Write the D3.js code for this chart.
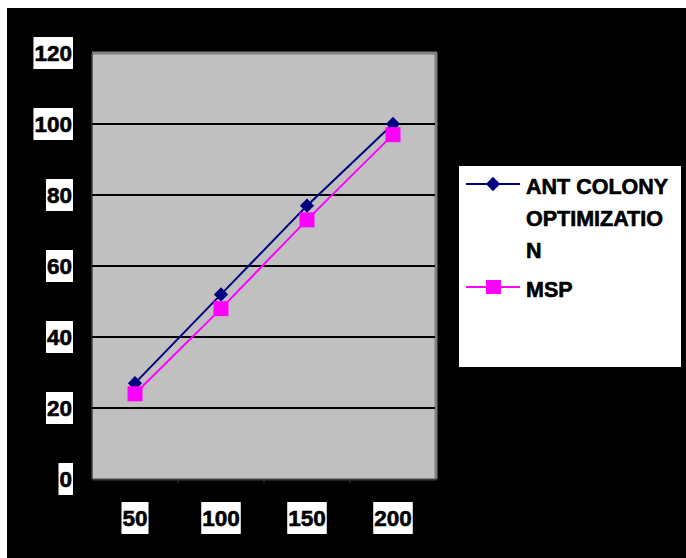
<!DOCTYPE html>
<html><head><meta charset="utf-8">
<script src="https://cdn.jsdelivr.net/npm/d3@7"></script>
<style>html,body{margin:0;padding:0;background:#fff;}svg{display:block;}</style>
</head><body><svg id="c" width="686" height="558"></svg>
<script>
const categories = ["50","100","150","200"];
const acoValues = [27,52,77,100];
const mspValues = [24,48,73,97];
const yTicks = [0,20,40,60,80,100,120];
const legendAco = ["ANT COLONY","OPTIMIZATIO","N"];
const legendMsp = ["MSP"];

const svg = d3.select("#c");
const FONT = "'Liberation Sans', Arial, sans-serif";
svg.append("rect").attr("x",0).attr("y",0).attr("width",686).attr("height",558).attr("fill","#fff");
svg.append("rect").attr("x",7).attr("y",8).attr("width",679).attr("height",550).attr("fill","#000");

const L=92,R=436,T=53,B=479;
const x = d3.scaleBand().domain(categories).range([L,R]);
const y = d3.scaleLinear().domain([0,120]).range([B,T]);

// plot area
svg.append("rect").attr("x",L).attr("y",T).attr("width",R-L).attr("height",B-T).attr("fill","#c0c0c0");
svg.append("line").attr("x1",L).attr("x2",R+1).attr("y1",T).attr("y2",T).attr("stroke","#808080").attr("stroke-width",3);
svg.append("line").attr("x1",R).attr("x2",R).attr("y1",T).attr("y2",B).attr("stroke","#808080").attr("stroke-width",3);
svg.append("line").attr("x1",L).attr("x2",L).attr("y1",T).attr("y2",B).attr("stroke","#404040").attr("stroke-width",1.5);

// gridlines
svg.append("g").selectAll("line").data(yTicks.filter(d=>d>0&&d<120)).join("line")
  .attr("x1",L).attr("x2",R-1).attr("y1",d=>y(d)).attr("y2",d=>y(d))
  .attr("stroke","#000").attr("stroke-width",2);

// bottom axis
const xAxisG = svg.append("g").attr("transform",`translate(0,${B})`)
  .call(d3.axisBottom(x).tickSize(0).tickFormat(""));
xAxisG.select(".domain").attr("stroke","#404040").attr("stroke-width",2);
svg.append("g").selectAll("line").data(categories.slice(1)).join("line")
  .attr("x1",d=>x(d)).attr("x2",d=>x(d)).attr("y1",B).attr("y2",B+4)
  .attr("stroke","#404040").attr("stroke-width",1);

function boxLabel(g, text, px, py, anchor){
  const t = g.append("text").attr("x",px).attr("y",py+8).attr("text-anchor",anchor)
    .attr("font-family",FONT).attr("font-weight","bold")
    .attr("font-size",22.5).attr("fill","#000").attr("stroke","#000").attr("stroke-width",0.6).text(text);
  const bb = t.node().getBBox();
  g.insert("rect","text").attr("x",bb.x-1).attr("y",py-16).attr("width",bb.width+2).attr("height",32).attr("fill","#fff");
}
yTicks.forEach(v=>{ const g=svg.append("g"); boxLabel(g, String(v), 72, y(v), "end"); });
categories.forEach(c=>{ const g=svg.append("g"); boxLabel(g, c, x(c)+x.bandwidth()/2, 518, "middle"); });

const cx = d=>x(d)+x.bandwidth()/2;
const line = d3.line().x((d,i)=>cx(categories[i])).y(d=>y(d));
svg.append("path").datum(mspValues).attr("d",line).attr("fill","none").attr("stroke","#ff00ff").attr("stroke-width",2);
svg.append("path").datum(acoValues).attr("d",line).attr("fill","none").attr("stroke","#000080").attr("stroke-width",2);
const diamond = d3.symbol().type(d3.symbolDiamond2).size(130);
svg.append("g").selectAll("path").data(acoValues).join("path")
  .attr("transform",(d,i)=>`translate(${cx(categories[i])},${y(d)})`).attr("d",diamond).attr("fill","#000080");
svg.append("g").selectAll("rect").data(mspValues).join("rect")
  .attr("x",(d,i)=>cx(categories[i])-7.5).attr("y",d=>y(d)-7.5).attr("width",15).attr("height",15).attr("fill","#ff00ff");

// legend
const lg = svg.append("g");
lg.append("rect").attr("x",459).attr("y",166).attr("width",222).attr("height",201).attr("fill","#fff");
lg.append("line").attr("x1",466).attr("x2",520).attr("y1",184).attr("y2",184).attr("stroke","#000080").attr("stroke-width",2);
lg.append("path").attr("transform","translate(493,184)").attr("d",diamond).attr("fill","#000080");
lg.append("line").attr("x1",466).attr("x2",520).attr("y1",287).attr("y2",287).attr("stroke","#ff00ff").attr("stroke-width",2);
lg.append("rect").attr("x",486).attr("y",280).attr("width",15).attr("height",14).attr("fill","#ff00ff");
legendAco.forEach((s,i)=>lg.append("text").attr("x",526).attr("y",194+i*32)
  .attr("font-family",FONT).attr("font-weight","bold").attr("font-size",21.5).attr("fill","#000")
  .attr("stroke","#000").attr("stroke-width",0.6).text(s));
legendMsp.forEach((s,i)=>lg.append("text").attr("x",526).attr("y",297+i*32)
  .attr("font-family",FONT).attr("font-weight","bold").attr("font-size",21.5).attr("fill","#000")
  .attr("stroke","#000").attr("stroke-width",0.6).text(s));
</script></body></html>
